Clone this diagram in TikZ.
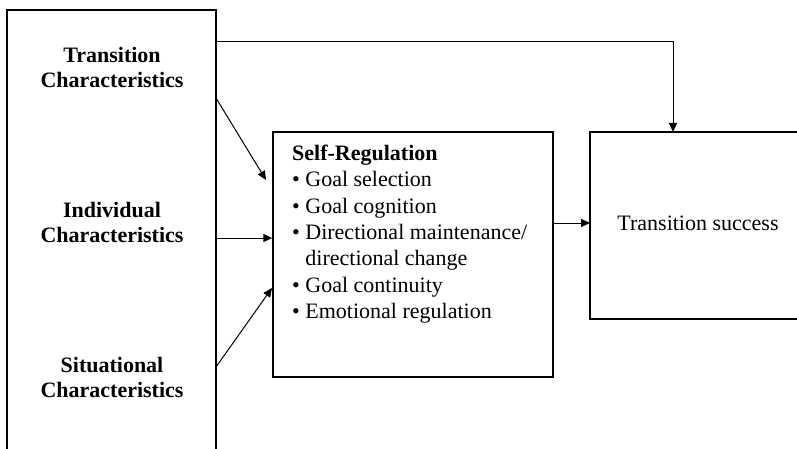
\documentclass[tikz,border=0pt]{standalone}
\usepackage{fontspec}
\setmainfont{Liberation Serif}
\usetikzlibrary{arrows.meta}
\begin{document}
\begin{tikzpicture}[x=1pt,y=-1pt,
  frame/.style={line width=1.5pt},
  link/.style={line width=1pt,-{Triangle[length=9pt,width=8pt]}},
  lbl/.style={align=center,font=\fontsize{22}{25}\selectfont\bfseries,inner sep=0pt},
  body/.style={font=\fontsize{22}{26.3}\selectfont,inner sep=0pt}]
\useasboundingbox (0,0) rectangle (797,449);

% left column of characteristics (open at the bottom)
\draw[frame] (7,449) -- (7,10) -- (216,10) -- (216,449);
\node[lbl] (tc) at (112,67) {Transition\\Characteristics};
\node[lbl] (ic) at (112,222) {Individual\\Characteristics};
\node[lbl] (sc) at (112,377) {Situational\\Characteristics};
\coordinate (tcout) at (216,98);
\coordinate (icout) at (216,238);
\coordinate (scout) at (216,367);
\coordinate (top) at (216,42);

% self-regulation box
\node[draw,frame,minimum width=280pt,minimum height=245pt,inner sep=0pt] (sr) at (413,254.5) {};
\node[body,anchor=north west,align=left] (srtext) at (292,145)
  {{\bfseries Self-Regulation}\\
   \textbullet\ Goal selection\\
   \textbullet\ Goal cognition\\
   \textbullet\ Directional maintenance/\\
   \phantom{\textbullet\ }directional change\\
   \textbullet\ Goal continuity\\
   \textbullet\ Emotional regulation};
\coordinate (srin1) at (266,180);
\coordinate (srin3) at (272,288);

% transition success box (open on the right)
\draw[frame] (798,132) -- (590,132) -- (590,319) -- (798,319);
\node[body,anchor=base] (ts) at (698,230) {Transition success};
\coordinate (tsleft) at (590,223);
\coordinate (tstop) at (673,132);

% connectors
\draw[link] (tcout) -- (srin1);
\draw[link] (icout) -- (sr.west |- icout);
\draw[link] (scout) -- (srin3);
\draw[link] (sr.east |- tsleft) -- (tsleft);
\draw[link] (top) -- (tstop |- top) -- (tstop);
\end{tikzpicture}
\end{document}
